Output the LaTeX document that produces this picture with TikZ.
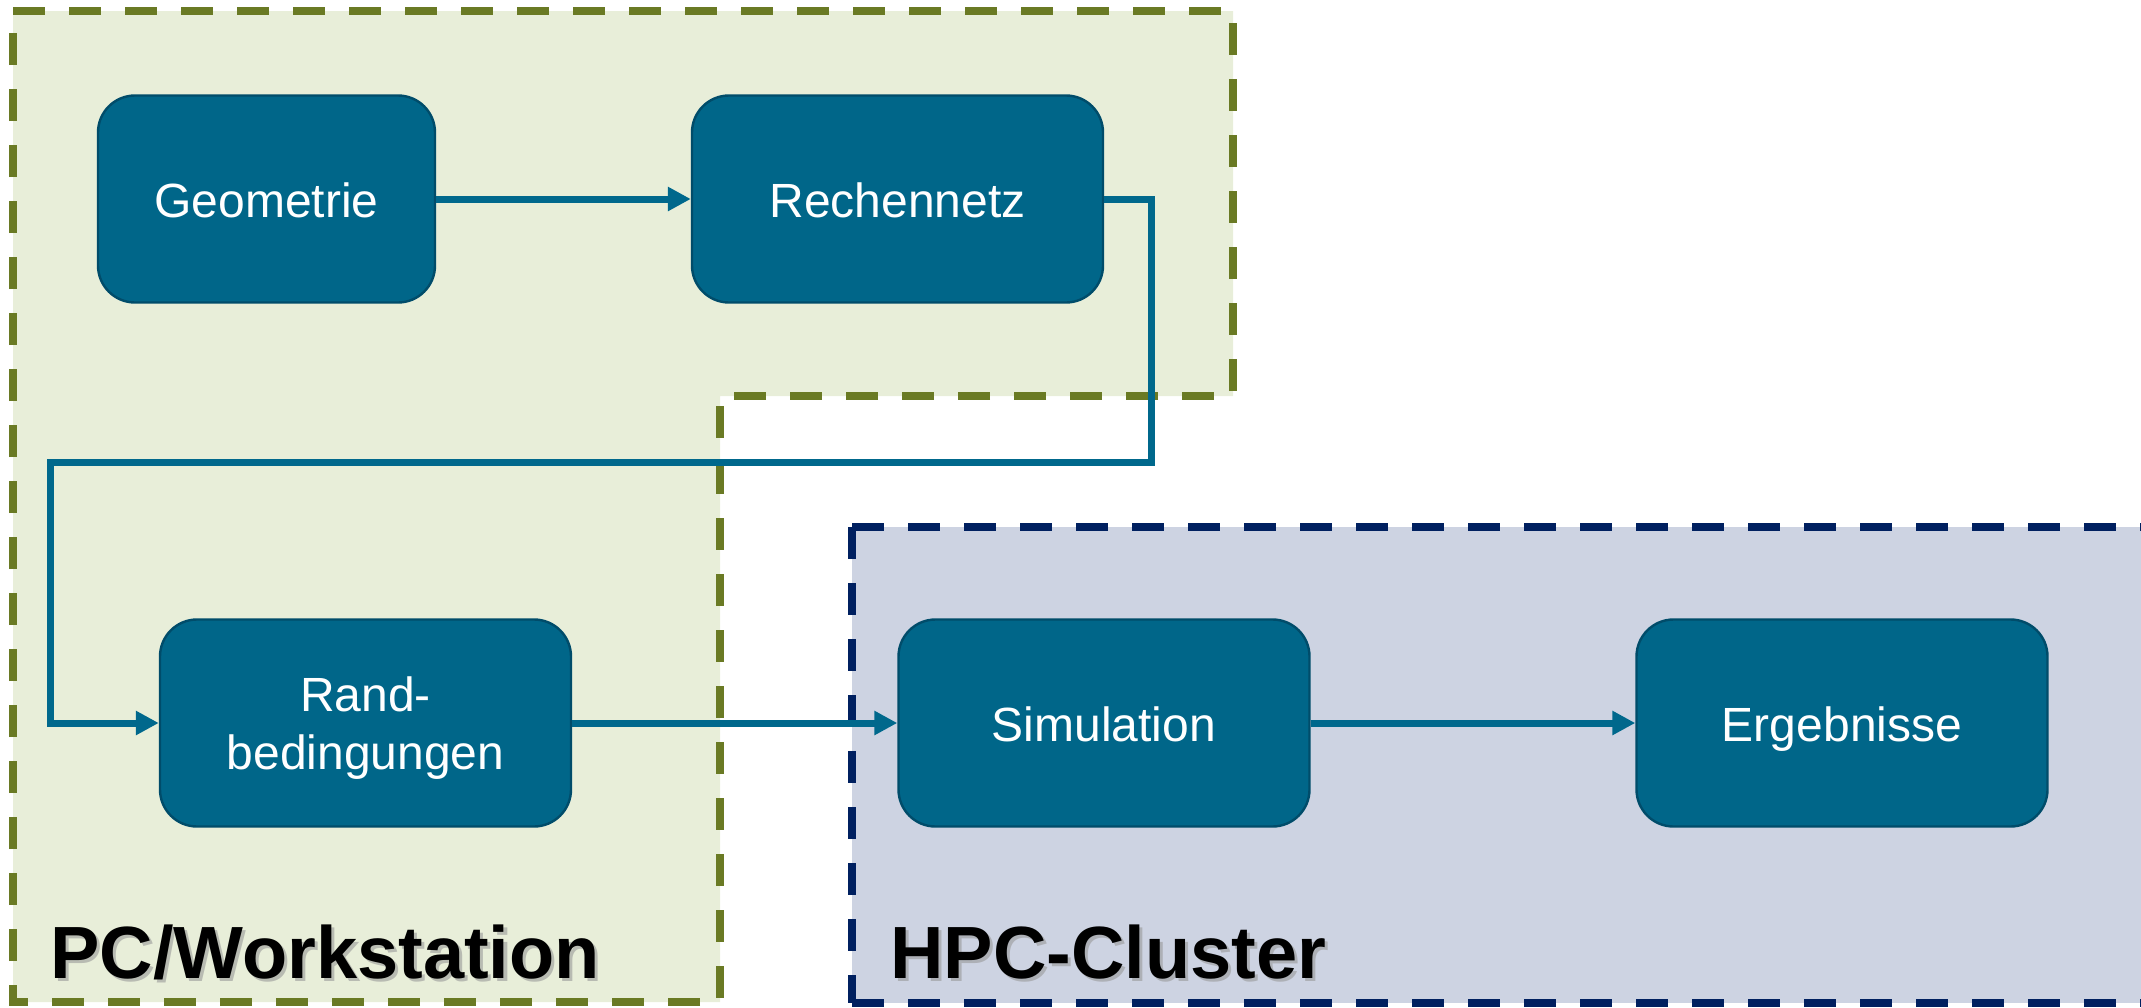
\documentclass[tikz,border=0pt]{standalone}
\usepackage{fontspec}
\setmainfont{Liberation Sans}
\usetikzlibrary{arrows.meta}

\definecolor{boxfill}{RGB}{0,102,137}
\definecolor{boxline}{RGB}{0,76,106}
\definecolor{flow}{RGB}{0,104,140}
\definecolor{pcfill}{RGB}{232,238,217}
\definecolor{pcline}{RGB}{106,122,36}
\definecolor{hpcfill}{RGB}{205,211,226}
\definecolor{hpcline}{RGB}{0,32,96}

\tikzset{
  stepbox/.style={draw=boxline, line width=1.2pt, fill=boxfill, rounded corners=18.5pt,
    text=white, align=center, inner sep=0pt,
    minimum width=205.5pt, minimum height=103.5pt,
    font=\fontsize{24}{29}\selectfont},
  oneline/.style={text height=18.5pt, text depth=0pt},
  zone/.style={line width=4pt, dash pattern=on 16pt off 12pt, line join=miter},
  conn/.style={draw=flow, line width=3.5pt, line join=miter,
    -{Triangle[length=11.5pt,width=11.5pt]}},
  zonelabel/.style={anchor=base west, inner sep=0pt,
    font=\fontsize{37}{40}\selectfont\bfseries},
  labelshadow/.style={zonelabel, text=black!40, opacity=0.6},
}

\begin{document}
\begin{tikzpicture}[x=0.5pt,y=-0.5pt]
\useasboundingbox (0,0) rectangle (2141,1007);
\clip (0,0) rectangle (2141,1007);

% zones
\fill[pcfill] (13,11) -- (1233,11) -- (1233,396) -- (720,396) -- (720,1002) -- (13,1002) -- cycle;
\fill[hpcfill] (852,527) rectangle (2200,1003);
\draw[zone, draw=pcline] (13,11) -- (1233,11) -- (1233,396) -- (720,396) -- (720,1002) -- (13,1002) -- cycle;
\draw[zone, draw=hpcline] (852,527) -- (2200,527) (852,1003) -- (2200,1003) (852,527) -- (852,1003);

% zone labels with soft shadow
\node[labelshadow] at (53,981) {PC/Workstation};
\node[zonelabel] (pclabel) at (50,978) {PC/Workstation};
\node[labelshadow] at (893,981) {HPC-Cluster};
\node[zonelabel] (hpclabel) at (890,978) {HPC-Cluster};

% process steps
\node[stepbox, oneline, minimum width=168.5pt] (geo) at (266.5,199) {Geometrie};
\node[stepbox, oneline] (rech) at (897.5,199) {Rechennetz};
\node[stepbox, text depth=0pt] (rand) at (365.5,723) {Rand-\\bedingungen};
\node[stepbox, oneline] (sim) at (1104,723) {Simulation};
\node[stepbox, oneline] (erg) at (1842,723) {Ergebnisse};

% flow
\coordinate (t1) at (1151,462);
\coordinate (t2) at (50,462);
\draw[conn] (geo.east) -- (rech.west);
\draw[conn] (rech.east) -| (t1) -- (t2) |- (rand.west);
\draw[conn] (rand.east) -- (sim.west);
\draw[conn] (sim.east) -- (erg.west);
\end{tikzpicture}
\end{document}
